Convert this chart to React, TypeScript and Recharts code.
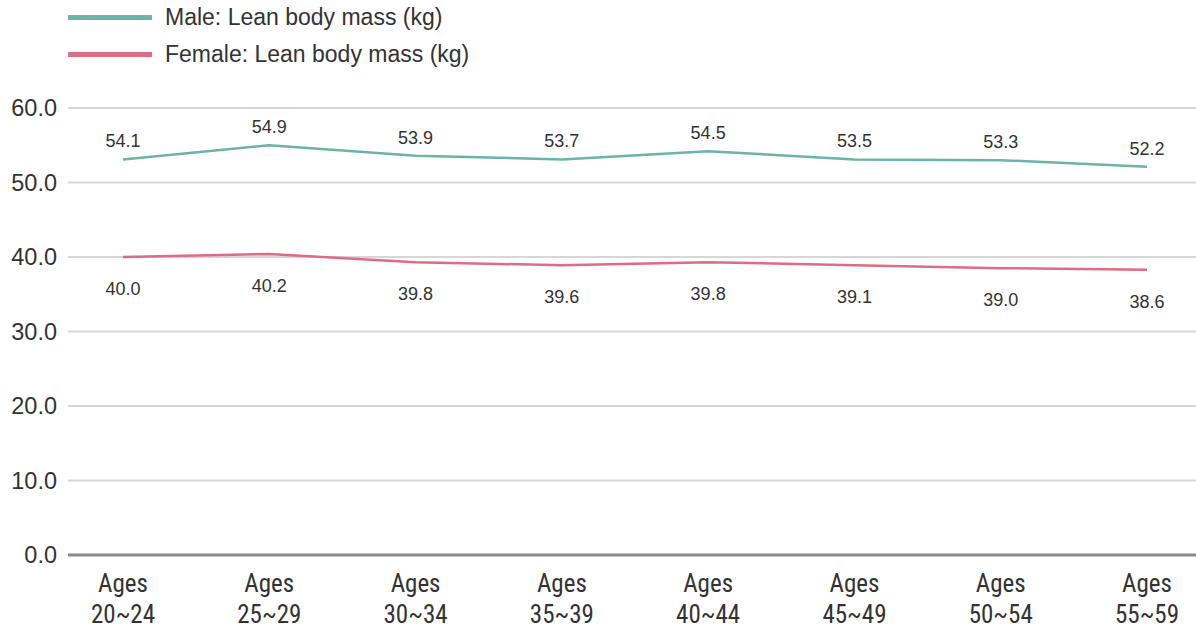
import { CartesianGrid, LabelList, Line, LineChart, ReferenceLine, XAxis, YAxis } from "recharts";

const ageGroups = ["20~24", "25~29", "30~34", "35~39", "40~44", "45~49", "50~54", "55~59"];
const maleKg = [53.1, 55.0, 53.6, 53.1, 54.2, 53.1, 53.0, 52.1];
const femaleKg = [40.0, 40.4, 39.3, 38.9, 39.3, 38.9, 38.5, 38.3];
const maleLabels = ["54.1", "54.9", "53.9", "53.7", "54.5", "53.5", "53.3", "52.2"];
const femaleLabels = ["40.0", "40.2", "39.8", "39.6", "39.8", "39.1", "39.0", "38.6"];
const yTicks = [0, 10, 20, 30, 40, 50, 60];

const MALE = "#6ab5a7";
const FEMALE = "#e06b84";
const TEXT = "#333333";
const FONT = "'Liberation Sans', Arial, Helvetica, sans-serif";

const data = ageGroups.map((age, i) => ({
  age,
  male: maleKg[i],
  female: femaleKg[i],
  maleLabel: maleLabels[i],
  femaleLabel: femaleLabels[i],
}));

const AgeTick = ({ x, y, payload }: any) => (
  <g transform={`translate(${x},${y})`}>
    <text textAnchor="middle" fill={TEXT} fontSize={25} fontFamily="'Liberation Sans Narrow', 'Roboto Condensed', Arial, sans-serif">
      <tspan x={0} y={29}>Ages</tspan>
      <tspan x={0} y={60}>{payload.value}</tspan>
    </text>
  </g>
);

const pointLabel = (dy: number) => (props: any) => {
  const { x, y, value } = props;
  return (
    <text x={x} y={y + dy} textAnchor="middle" fill={TEXT} fontSize={18} fontFamily={FONT}>
      {value}
    </text>
  );
};

const legendItems = [
  { name: "Male: Lean body mass (kg)", color: MALE },
  { name: "Female: Lean body mass (kg)", color: FEMALE },
];

export default function App() {
  return (
    <div style={{ position: "absolute", left: 0, top: 0, width: 1196, height: 631, background: "#fff", fontFamily: FONT }}>
      <div style={{ position: "absolute", left: 68, top: 0 }}>
        {legendItems.map((item, i) => (
          <div key={item.name} style={{ position: "absolute", top: 3 + i * 37, left: 0, display: "flex", alignItems: "center", whiteSpace: "nowrap" }}>
            <span style={{ display: "inline-block", width: 84, height: 5, background: item.color }} />
            <span style={{ marginLeft: 13, fontSize: 23, color: TEXT, lineHeight: "28px" }}>{item.name}</span>
          </div>
        ))}
      </div>
      <LineChart width={1196} height={631} data={data} margin={{ top: 108, right: 0, bottom: 0, left: 0 }}>
        <CartesianGrid horizontal vertical={false} stroke="#d7d7d7" strokeWidth={2} />
        <XAxis
          dataKey="age"
          height={76}
          axisLine={false}
          tickLine={false}
          interval={0}
          padding={{ left: 55, right: 49 }}
          tick={<AgeTick />}
        />
        <YAxis
          width={68}
          domain={[0, 60]}
          ticks={yTicks}
          axisLine={false}
          tickLine={false}
          tickMargin={5}
          tickFormatter={(v: number) => v.toFixed(1)}
          tick={{ fill: TEXT, fontSize: 23.5, fontFamily: FONT }}
        />
        <ReferenceLine y={0} stroke="#8a8a8a" strokeWidth={3} />
        <Line type="linear" dataKey="male" stroke={MALE} strokeWidth={2.5} dot={false} isAnimationActive={false}>
          <LabelList dataKey="maleLabel" content={pointLabel(-12)} />
        </Line>
        <Line type="linear" dataKey="female" stroke={FEMALE} strokeWidth={2.5} dot={false} isAnimationActive={false}>
          <LabelList dataKey="femaleLabel" content={pointLabel(38)} />
        </Line>
      </LineChart>
    </div>
  );
}
